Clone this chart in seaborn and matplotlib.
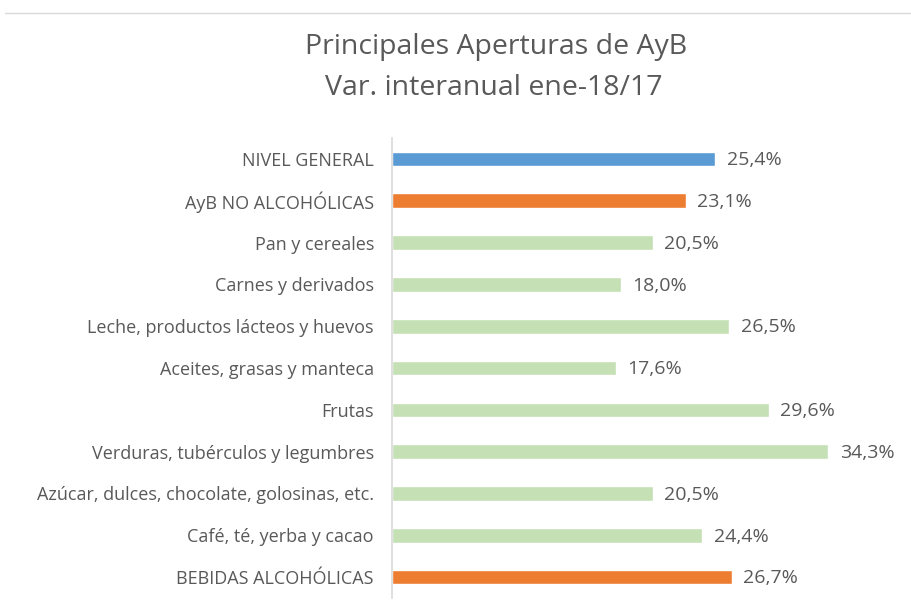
import numpy as np
import pandas as pd
import matplotlib
matplotlib.use("Agg")
import matplotlib.pyplot as plt
import seaborn as sns
from matplotlib.lines import Line2D

categorias = ["NIVEL GENERAL", "AyB NO ALCOHÓLICAS", "Pan y cereales", "Carnes y derivados",
              "Leche, productos lácteos y huevos", "Aceites, grasas y manteca", "Frutas",
              "Verduras, tubérculos y legumbres", "Azúcar, dulces, chocolate, golosinas, etc.",
              "Café, té, yerba y cacao", "BEBIDAS ALCOHÓLICAS"]
variacion = [25.4, 23.1, 20.5, 18.0, 26.5, 17.6, 29.6, 34.3, 20.5, 24.4, 26.7]
colores = ["#5B9BD5", "#ED7D31", "#C5E0B4", "#C5E0B4", "#C5E0B4", "#C5E0B4", "#C5E0B4",
           "#C5E0B4", "#C5E0B4", "#C5E0B4", "#ED7D31"]

df = pd.DataFrame({"cat": categorias, "var": variacion})

sns.set_style("white")
plt.rcParams['font.family'] = ['Open Sans', 'DejaVu Sans']
gris = "#595959"

fig = plt.figure(figsize=(9.11, 6.05), dpi=100)
ax = fig.add_axes([392/911, 1-598/605, (850-392)/911, (598-138)/605])

sns.barplot(data=df, x="var", y="cat", hue="cat", palette=colores, legend=False,
            width=0.35, saturation=1, ax=ax, orient="h")

ax.set_xlim(0, 36)
ax.set_ylim(10.5, -0.5)
ax.set_xlabel("")
ax.set_ylabel("")
ax.set_xticks([])
for s in ["top", "right", "bottom"]:
    ax.spines[s].set_visible(False)
ax.spines["left"].set_color("#D9D9D9")
ax.spines["left"].set_linewidth(1.2)
ax.tick_params(axis="y", length=0, pad=13, labelsize=13, labelcolor=gris)

# etiquetas de valor con coma decimal
for i, v in enumerate(variacion):
    ax.text(v + 0.9, i + 0.03, f"{v:.1f}%".replace(".", ","), va="center", ha="left",
            fontsize=14, color=gris)

fig.text(496/911, 1-47/605, "Principales Aperturas de AyB", ha="center", va="center",
         fontsize=20.5, color=gris)
fig.text(494/911, 1-88/605, "Var. interanual ene-18/17", ha="center", va="center",
         fontsize=20.5, color=gris)

fig.add_artist(Line2D([5/911, 1], [1-13/605, 1-13/605], color="#D9D9D9", lw=1,
                      transform=fig.transFigure))

fig.savefig("out.png", dpi=100)
